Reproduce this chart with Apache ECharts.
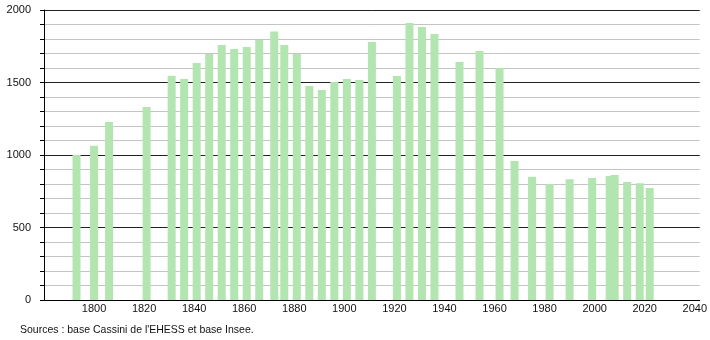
<!DOCTYPE html>
<html>
<head>
<meta charset="utf-8">
<script src="https://cdn.jsdelivr.net/npm/echarts@6/dist/echarts.min.js"></script>
<style>html,body{margin:0;padding:0;background:#fff}#c{width:710px;height:340px}</style>
</head>
<body>
<div id="c"></div>
<script>
const years = [1793,1800,1806,1821,1831,1836,1841,1846,1851,1856,1861,1866,1872,1876,1881,1886,1891,1896,1901,1906,1911,1921,1926,1931,1936,1946,1954,1962,1968,1975,1982,1990,1999,2006,2008,2013,2018,2022];
const population = [1000,1064,1228,1331,1547,1524,1634,1697,1759,1731,1745,1793,1851,1759,1697,1476,1448,1503,1524,1517,1779,1545,1910,1883,1834,1641,1717,1600,959,850,800,832,841,855,862,814,805,772];
const xTickLabels = [1800,1820,1840,1860,1880,1900,1920,1940,1960,1980,2000,2020,2040];
const yTickLabels = [0,500,1000,1500,2000];
const sourceText = "Sources : base Cassini de l'EHESS et base Insee.";

const chart = echarts.init(document.getElementById('c'), null, {renderer:'canvas'});
chart.setOption({
  animation: false,
  backgroundColor: '#fff',
  grid: {left: 44, right: 9, top: 10, bottom: 40, containLabel: false},
  xAxis: {
    type: 'value', min: 1780, max: 2042, interval: 20,
    axisLine: {show: true, lineStyle: {color: '#000', width: 1}},
    axisTick: {show: false},
    splitLine: {show: false},
    axisLabel: {
      color: '#111', fontSize: 11, fontFamily: 'Liberation Sans, Arial, sans-serif', margin: 3,
      showMinLabel: true, showMaxLabel: true,
      formatter: v => xTickLabels.includes(v) ? String(v) : ''
    }
  },
  yAxis: {
    type: 'value', min: 0, max: 2000, interval: 100,
    axisLine: {show: true, lineStyle: {color: '#000', width: 1}},
    axisTick: {show: true, length: 4, lineStyle: {color: '#000'}},
    splitLine: {show: true, lineStyle: {color: ['#222','#c4c4c4','#c4c4c4','#c4c4c4','#c4c4c4'], width: 1}},
    axisLabel: {
      color: '#111', fontSize: 11, fontFamily: 'Liberation Sans, Arial, sans-serif', margin: 13,
      formatter: v => yTickLabels.includes(v) ? String(v) : ''
    }
  },
  series: [{
    type: 'bar',
    barWidth: 8,
    data: years.map((y, i) => [y, population[i]]),
    itemStyle: {color: '#b2e5b0'},
    z: 3
  }],
  graphic: [{
    type: 'text', left: 20, top: 325,
    style: {text: sourceText, fill: '#111', fontSize: 10.5, fontFamily: 'Liberation Sans, Arial, sans-serif'}
  }]
});
</script>
</body>
</html>
